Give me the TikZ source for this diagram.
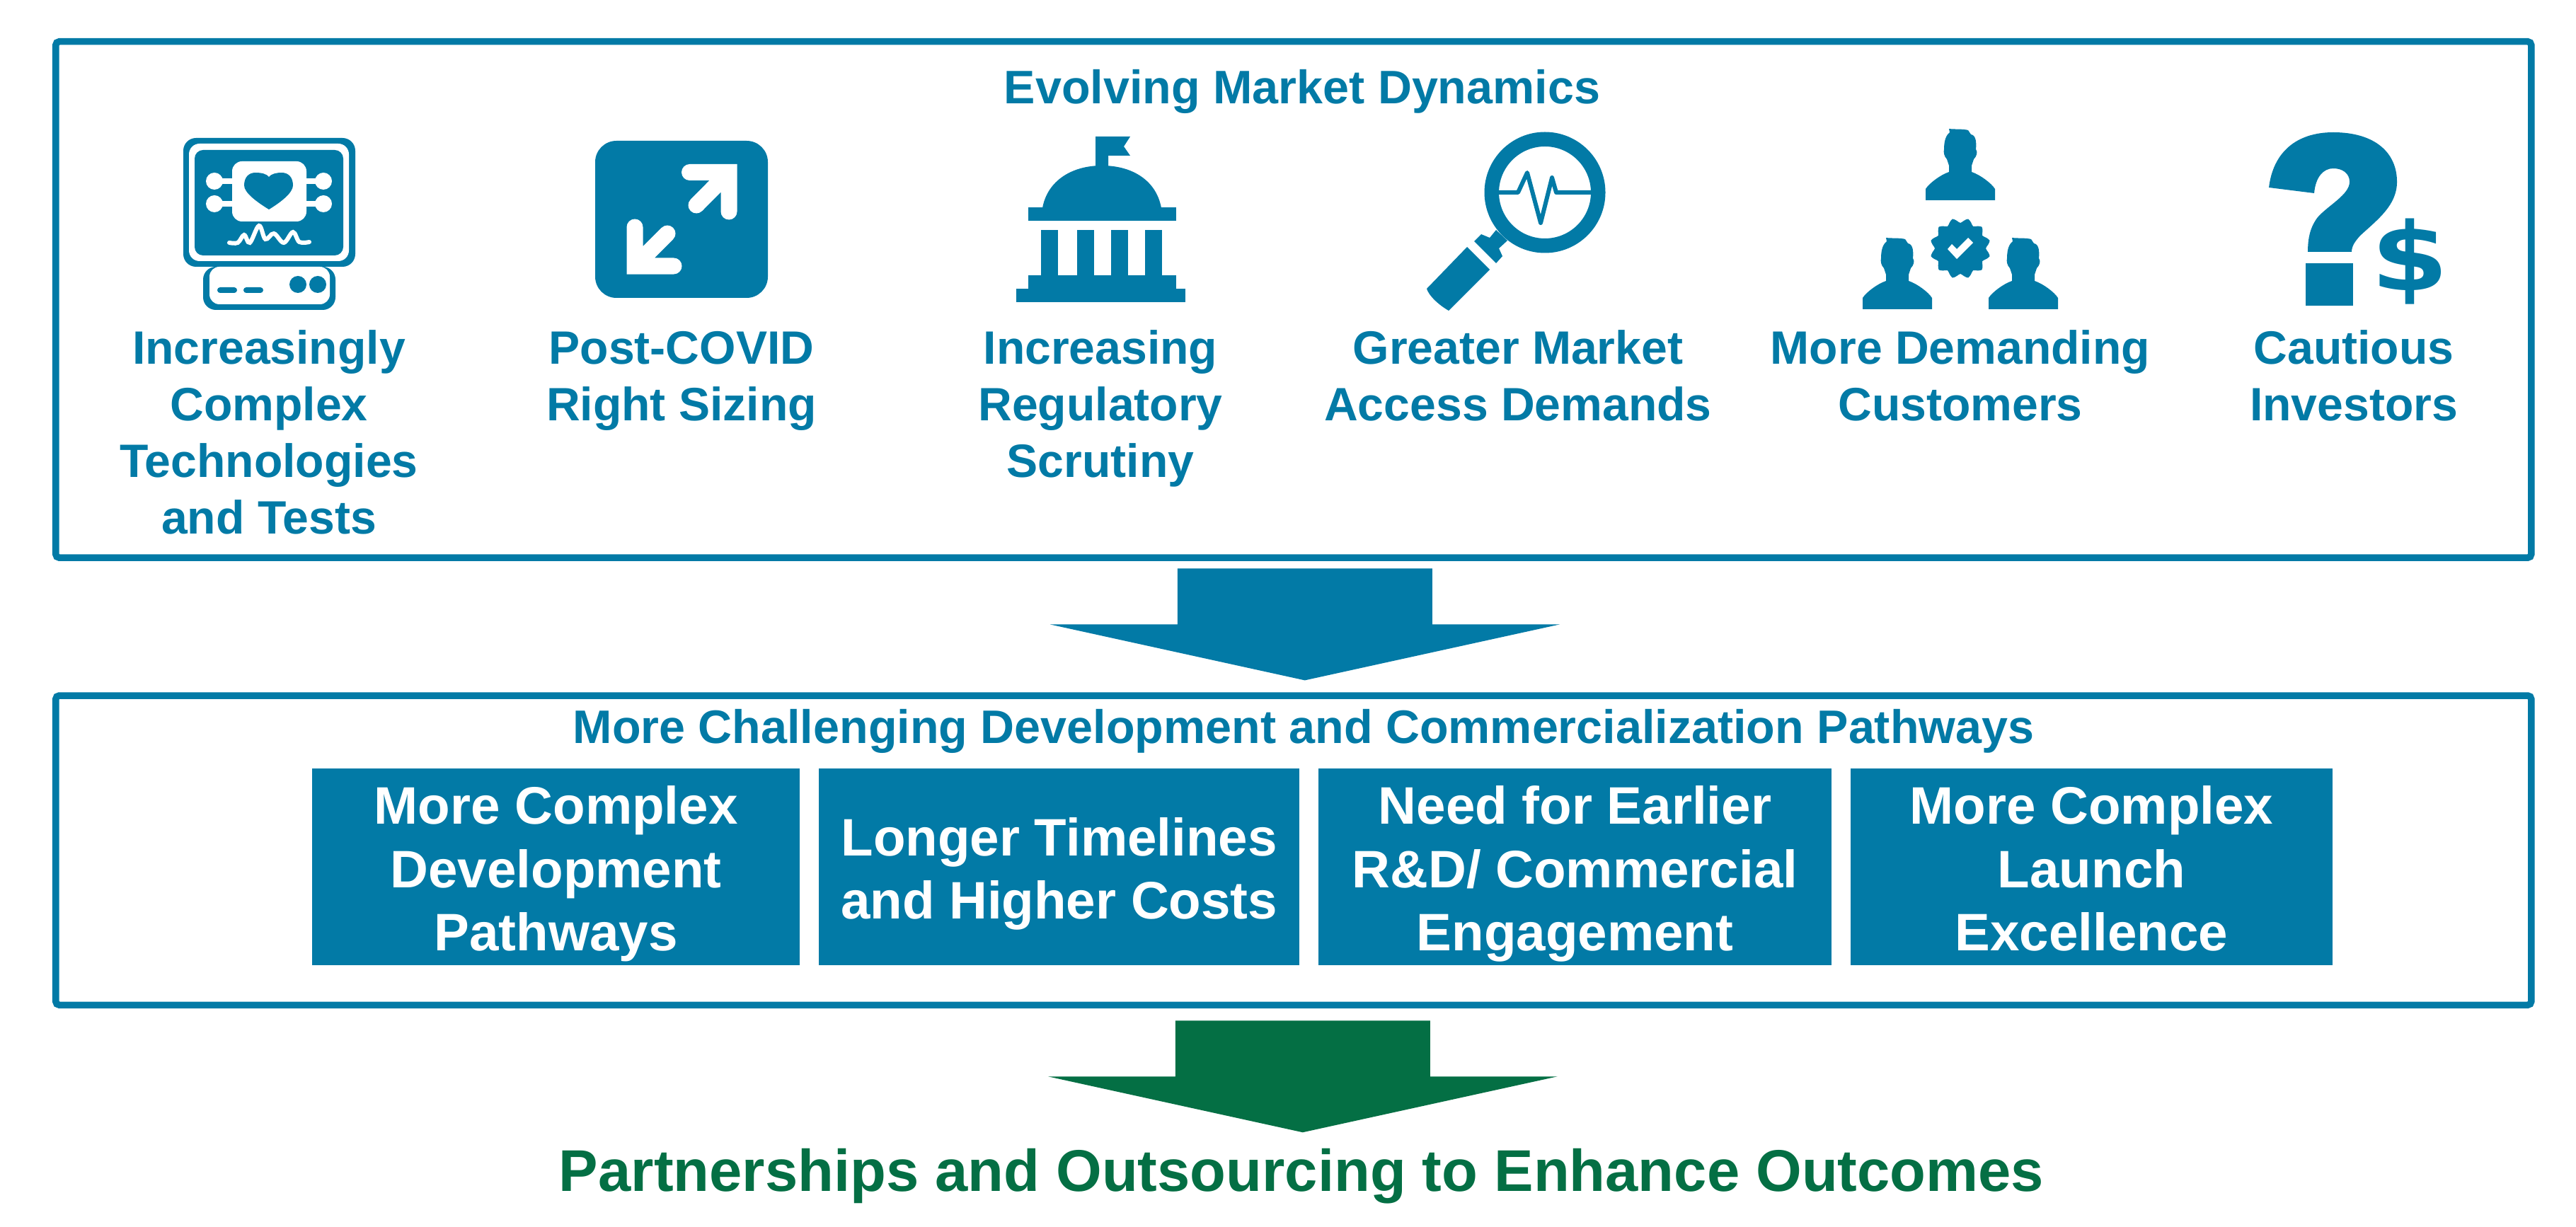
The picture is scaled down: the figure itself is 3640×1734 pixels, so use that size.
\documentclass[tikz,border=0pt]{standalone}
\usepackage{fontspec}
\setmainfont{Liberation Sans}
\newfontfamily\dollarfont{DejaVu Sans}
\usetikzlibrary{calc,positioning}
\definecolor{MarketBlue}{HTML}{027AA6}
\definecolor{OutcomeGreen}{HTML}{046F44}
\newcommand{\tiletop}{\rule{0pt}{21pt}}
\newcommand{\captop}{\rule{0pt}{16pt}}
\tikzset{
  person/.pic={
    \fill[MarketBlue] (-49,0) -- (-49,-16) .. controls (-44,-24) and (-28,-36) .. (-16,-40)
      -- (-16,-49) -- (-19,-58) .. controls (-23,-62) and (-24,-68) .. (-23,-72)
      .. controls (-23,-85) and (-20,-92) .. (-15,-96) -- (-16,-101)
      .. controls (-8,-100) and (4,-101) .. (11,-99) -- (15,-93)
      .. controls (22,-92) and (23,-82) .. (22,-72) .. controls (25,-68) and (23,-62) .. (19,-58)
      -- (16,-49) -- (16,-40) .. controls (28,-36) and (44,-24) .. (49,-16) -- (49,0) -- cycle;
  }
}
\newcommand{\flowarrow}[2]{%
  \fill[#1] (#2) ++(-180,0) -- ++(360,0) -- ++(0,79) -- ++(180,0) -- ++(-360,79)
    -- ++(-360,-79) -- ++(180,0) -- cycle;
}
\begin{document}
\begin{tikzpicture}[
    x=0.01cm,y=-0.01cm,
    node distance=2.7mm,
    panel/.style={
      draw=MarketBlue,
      line width=0.095cm,
      rounded corners=0.5mm,
      inner sep=0pt,
      outer sep=0pt,
      anchor=north west
    },
    tile/.style={
      fill=MarketBlue,
      text=white,
      inner sep=0pt,
      outer sep=0pt,
      minimum height=2.78cm,
      align=center,
      execute at end node=\rule[-4.5pt]{0pt}{4.5pt},
      font=\fontsize{21.2}{25.5}\selectfont\bfseries
    },
    heading/.style={
      text=MarketBlue,
      inner sep=0pt,
      font=\fontsize{18.9}{22.7}\selectfont\bfseries
    },
    caption/.style={
      text=MarketBlue,
      inner sep=0pt,
      anchor=north,
      align=center,
      font=\fontsize{18.8}{22.7}\selectfont\bfseries
    },
    icon/.style={fill=MarketBlue}
  ]
    \useasboundingbox (0,0) rectangle (3640,1734);

    \node[panel,minimum width=34.96cm,minimum height=7.29cm] (marketbox) at (78.75,58.75) {};
    \node[panel,minimum width=34.96cm,minimum height=4.37cm] (pathbox) at (78.75,983) {};

    \node[heading] (markettitle) at (1840,129) {Evolving Market Dynamics};
    \foreach \name/\x/\txt in {tech/380/{Increasingly\\Complex\\Technologies\\and Tests},
        sizing/963/{Post-COVID\\Right Sizing},
        scrutiny/1555/{Increasing\\Regulatory\\Scrutiny},
        access/2145/{Greater Market\\Access Demands},
        customers/2770/{More Demanding\\Customers},
        investors/3326/{Cautious\\Investors}}
      \node[caption] (\name) at (\x,458) {\captop\txt};

    % monitor
    \fill[icon,rounded corners=1.8mm] (259,195) rectangle (502,377);
    \fill[white,rounded corners=1.5mm] (267,203) rectangle (493,369);
    \fill[icon,rounded corners=1.2mm] (275,212) rectangle (485,361);
    \fill[white,rounded corners=1.4mm] (328,228) rectangle (433,313);
    \foreach \cy in {256,288}{
      \fill[white] (303,\cy) circle[radius=12];
      \fill[white] (457,\cy) circle[radius=12];
      \fill[white] (303,\cy-4) rectangle (457,\cy+4);
    }
    \fill[MarketBlue] (380,296) .. controls (362,285) and (345,272) .. (345,262)
      .. controls (345,250) and (352,244) .. (361,244) .. controls (370,244) and (377,246) .. (380,250)
      .. controls (383,246) and (390,244) .. (398,244) .. controls (407,244) and (414,250) .. (414,262)
      .. controls (414,272) and (398,285) .. (380,296) -- cycle;
    \draw[white,line width=0.06cm,line cap=round] plot[smooth,tension=0.6] coordinates
      {(324,343) (336,343) (345,332) (353,343) (366,319) (375,338) (387,330) (401,343) (414,328) (423,342) (437,342)};
    \fill[icon,rounded corners=1.8mm] (287,377) -- (287,438) -- (474,438) -- (474,377) -- cycle;
    \fill[white,rounded corners=1.4mm] (296,377) -- (296,430) -- (466,430) -- (466,377) -- cycle;
    \fill[icon,rounded corners=0.4mm] (307,406) rectangle (335,414) (344,406) rectangle (372,414);
    \fill[icon] (421,402) circle[radius=12] (449,402) circle[radius=12];

    % resize tile
    \fill[icon,rounded corners=3mm] (841,199) rectangle (1085,421);
    \draw[white,line width=0.23cm,line cap=round] (974.5,243.5) -- (1030,243.5) -- (1030,299)
      (1030,243.5) -- (984,290);
    \draw[white,line width=0.23cm,line cap=round] (897,321) -- (897,376) -- (952,376)
      (897,376) -- (943,330);

    % capitol
    \fill[icon] (1548,236) -- (1548,193) -- (1597,193) -- (1588,207) -- (1597,220) -- (1566,220) -- (1566,236) -- cycle;
    \fill[icon] (1473,294) .. controls (1480,255) and (1515,234) .. (1557,234)
      .. controls (1600,234) and (1634,255) .. (1641,294) -- cycle;
    \fill[icon] (1453,293) rectangle (1662,312);
    \foreach \cx in {1471,1522,1570,1618}
      \fill[icon] (\cx,325) rectangle (\cx+24,390);
    \fill[icon] (1453,389) rectangle (1662,408);
    \fill[icon] (1436,408) rectangle (1675,427);

    % magnifier
    \fill[icon,even odd rule] (2183,272) circle[radius=85.5] (2183,272) circle[radius=65];
    \draw[MarketBlue,line width=0.06cm,line join=round] (2118,272) -- (2145,272) -- (2158,244) -- (2177,315)
      -- (2193,251) -- (2199,272) -- (2248,272);
    \fill[icon] (2114,325) -- (2105,336) -- (2093,331) -- (2083,341) -- (2114,372) -- (2123,362)
      -- (2118,351) -- (2130,340) -- cycle;
    \fill[icon] (2073,349) -- (2105,381) -- (2047,439) .. controls (2033,431) and (2019,418) .. (2016,408) -- cycle;

    % customers
    \pic at (2770,283) {person};
    \pic at (2681,437) {person};
    \pic at (2859,437) {person};
    \fill[icon,shift={(2770,351)}] plot[smooth cycle,domain=0:352.5,samples=48] (\x:{39.5+3.5*cos(12*(\x+15))});
    \fill[white] (2752,352) -- (2765,366) -- (2788,343) -- (2781,336) -- (2765,352) -- (2758,345) -- cycle;

    % question mark
    \fill[icon] (3206,265) .. controls (3212,215) and (3245,187) .. (3297,187)
      .. controls (3355,187) and (3387,215) .. (3387,257) .. controls (3387,290) and (3360,310) .. (3335,333)
      .. controls (3327,342) and (3323,348) .. (3323,356) -- (3261,356)
      .. controls (3261,335) and (3265,320) .. (3275,307) .. controls (3290,290) and (3320,275) .. (3320,257)
      .. controls (3320,245) and (3310,238) .. (3297,238) .. controls (3283,238) and (3272,250) .. (3270,273) -- cycle;
    \fill[icon] (3258,372) rectangle (3325,432);
    \node[text=MarketBlue,inner sep=0pt,font=\dollarfont\fontsize{38}{38}\selectfont\bfseries] (dollar) at (3405,370) {\scalebox{1.18}[1]{\$}};

    \coordinate (marketflow) at ($(marketbox.south)+(16,15.25)$);
    \flowarrow{MarketBlue}{marketflow}

    \node[heading] (pathtitle) at (1842,1033.5) {More Challenging Development and Commercialization Pathways};
    \node[tile,minimum width=6.89cm,anchor=north west] (devpath) at (441,1086) {\tiletop More Complex\\Development\\Pathways};
    \node[tile,minimum width=6.78cm,right=of devpath] (timeline) {\tiletop Longer Timelines\\and Higher Costs};
    \node[tile,minimum width=7.25cm,right=of timeline] (engage) {\tiletop Need for Earlier\\R\&D/ Commercial\\Engagement};
    \node[tile,minimum width=6.80cm,right=of engage] (launch) {\tiletop More Complex\\Launch\\Excellence};

    \coordinate (pathflow) at ($(pathbox.south)+(13,22)$);
    \flowarrow{OutcomeGreen}{pathflow}

    \node[text=OutcomeGreen,inner sep=0pt,font=\fontsize{23.65}{28}\selectfont\bfseries] (outcome) at (1839,1662) {Partnerships and Outsourcing to Enhance Outcomes};
  \end{tikzpicture}
\end{document}
